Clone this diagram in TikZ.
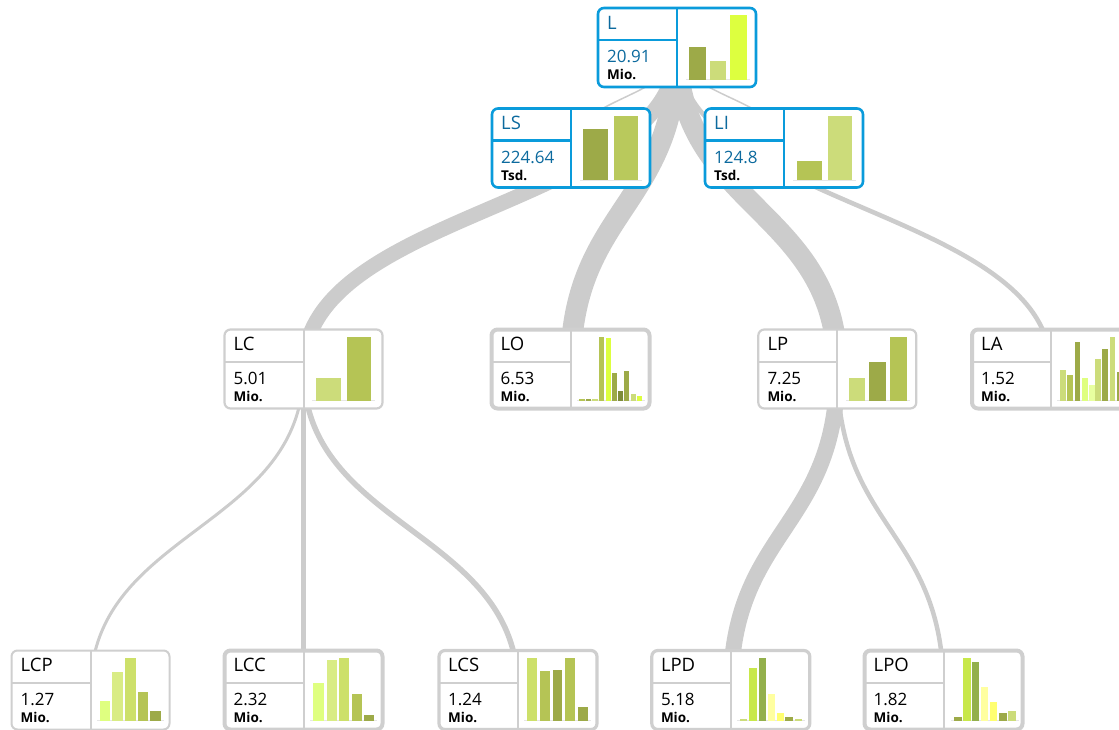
\documentclass[tikz,border=0pt]{standalone}
\usepackage{fontspec}
\setmainfont{Open Sans}
\usetikzlibrary{calc}
\pgfdeclarelayer{links}
\pgfsetlayers{links,main}

% palette
\definecolor{nodeblue}{HTML}{0A9BDB}
\definecolor{textblue}{HTML}{0C6A9E}
\definecolor{flowgray}{HTML}{CCCCCC}
\definecolor{framegray}{HTML}{CFCFCF}
\definecolor{axisgray}{HTML}{E6E6E6}
\definecolor{olive}{HTML}{9DAA48}
\definecolor{darkolive}{HTML}{7E8C3A}
\definecolor{midgreen}{HTML}{B5C455}
\definecolor{lightgreen}{HTML}{CCDC7A}
\definecolor{bright}{HTML}{DDFF3F}
\definecolor{palelime}{HTML}{DFFF80}
\definecolor{paler}{HTML}{E8FFA0}
\definecolor{softgreen}{HTML}{D9EC85}
\definecolor{leafgreen}{HTML}{CDE06A}
\definecolor{lime}{HTML}{C8E84A}
\definecolor{moss}{HTML}{93B04C}
\definecolor{paleyellow}{HTML}{FFFFA0}
\definecolor{yellow}{HTML}{FFFF70}
\definecolor{lsbar}{HTML}{B9C95C}

\tikzset{
  box/.style={rectangle, rounded corners=6pt, minimum width=158pt,
    minimum height=79pt, inner sep=0pt, outer sep=0pt, fill=white},
  bluebox/.style={box, draw=nodeblue, line width=2.6pt},
  graybox/.style={box, draw=framegray},
  bluediv/.style={draw=nodeblue, line width=2.4pt},
  graydiv/.style={draw=framegray, line width=2pt},
  flow/.style={draw=flowgray, line cap=butt},
  nametext/.style={anchor=base west, inner sep=0pt, font=\fontsize{18.5}{21}\selectfont},
  valtext/.style={anchor=base west, inner sep=0pt, font=\fontsize{17}{20}\selectfont},
  unittext/.style={anchor=base west, inner sep=0pt, font=\fontsize{13.5}{16}\selectfont\bfseries},
  axis/.style={draw=axisgray, line width=1pt},
}

% a node box: name, x, y, frame style, divider style, label, value, unit
\newcommand\kpibox[8]{%
  \node[#4] (#1) at (#2,#3) {};
  \draw[#5] (#1.north) -- (#1.south);
  \draw[#5] ([yshift=7.5pt]#1.west) -- ([yshift=7.5pt]#1.center);
  \node[nametext] (#1-name) at ($(#1.center)+(-70,-18.5)$) {#6};
  \node[valtext] (#1-value) at ($(#1.center)+(-70,15)$) {#7};
  \node[unittext] (#1-unit) at ($(#1.center)+(-70,32)$) {#8};
}

% a flow band between two node centres with vertical tangents
\newcommand\flowlink[3]{%
  \path ($(#1.center)!0.5!(#2.center)$) coordinate (mid-#1-#2);
  \draw[flow, line width=#3pt] (#1.center) .. controls (#1.center |- mid-#1-#2)
    and (#2.center |- mid-#1-#2) .. (#2.center);
}

\begin{document}
\begin{tikzpicture}[x=1pt, y=-1pt]
\useasboundingbox (0,0) rectangle (1119,729);
\clip (0,0) rectangle (1119,729);

% ---------- boxes ----------
\kpibox{L}{677}{47.5}{bluebox}{bluediv}{\color{textblue}L}{\color{textblue}20.91}{Mio.}
\kpibox{LS}{571}{148}{bluebox}{bluediv}{\color{textblue}LS}{\color{textblue}224.64}{Tsd.}
\kpibox{LI}{784}{148}{bluebox}{bluediv}{\color{textblue}LI}{\color{textblue}124.8}{Tsd.}

\kpibox{LC}{303.5}{369}{graybox, line width=2.2pt}{graydiv}{LC}{5.01}{Mio.}
\kpibox{LO}{570.5}{369}{graybox, line width=4pt}{graydiv}{LO}{6.53}{Mio.}
\kpibox{LP}{837.3}{369}{graybox, line width=2.2pt}{graydiv}{LP}{7.25}{Mio.}
\kpibox{LA}{1051}{369}{graybox, line width=4pt}{graydiv}{LA}{1.52}{Mio.}

\kpibox{LCP}{90.5}{690}{graybox, line width=2pt}{graydiv}{LCP}{1.27}{Mio.}
\kpibox{LCC}{303.5}{690}{graybox, line width=4pt}{graydiv}{LCC}{2.32}{Mio.}
\kpibox{LCS}{518}{690}{graybox, line width=3.2pt}{graydiv}{LCS}{1.24}{Mio.}
\kpibox{LPD}{730.8}{690}{graybox, line width=3.2pt}{graydiv}{LPD}{5.18}{Mio.}
\kpibox{LPO}{943.5}{690}{graybox, line width=4pt}{graydiv}{LPO}{1.82}{Mio.}

% ---------- flow bands ----------
\begin{pgfonlayer}{links}
\flowlink{L}{LS}{1.5}
\flowlink{L}{LI}{1.5}
\flowlink{L}{LC}{15}
\flowlink{L}{LO}{21}
\flowlink{L}{LP}{21}
\flowlink{L}{LA}{4.6}
\flowlink{LC}{LCP}{3}
\flowlink{LC}{LCC}{5.5}
\flowlink{LC}{LCS}{5.5}
\flowlink{LP}{LPD}{16}
\flowlink{LP}{LPO}{4.5}
\end{pgfonlayer}

% ---------- bar charts ----------
% L
\draw[axis] (686,79.5) -- (750,79.5);
\foreach \a/\b/\t/\c in {689/705.7/47/olive, 710/725.7/60.7/lightgreen, 730/746.7/15.3/bright}
  \fill[\c] (\a,79.5) rectangle (\b,\t);
% LS
\draw[axis] (580,180) -- (642,180);
\foreach \a/\b/\t/\c in {583.3/608/129/olive, 614/638.3/115.7/lsbar}
  \fill[\c] (\a,180) rectangle (\b,\t);
% LI
\draw[axis] (793,180) -- (856,180);
\foreach \a/\b/\t/\c in {796.7/821.7/161/midgreen, 827.7/852.3/115.7/lightgreen}
  \fill[\c] (\a,180) rectangle (\b,\t);
% LC
\draw[axis] (312,400.5) -- (375,400.5);
\foreach \a/\b/\t/\c in {316/340.7/378.3/lightgreen, 346.7/371/336.7/midgreen}
  \fill[\c] (\a,400.5) rectangle (\b,\t);
% LO
\draw[axis] (577,400.7) -- (645,400.7);
\foreach \a/\b/\t/\c in {579.3/585/398.7/midgreen, 585.7/591.3/398.5/olive,
  592.3/598/399/lightgreen, 599.3/604.3/336.7/midgreen, 605.7/610.7/338.3/bright,
  611.7/616.7/373.3/olive, 617.7/623/391/darkolive, 624/629.3/371/olive,
  630.7/636/394/lightgreen, 636.7/642.3/396/bright}
  \fill[\c] (\a,400.7) rectangle (\b,\t);
% LP
\draw[axis] (846,400.5) -- (910,400.5);
\foreach \a/\b/\t/\c in {849.3/865.3/378.3/lightgreen, 869.3/886/361.7/olive, 890/906.7/336.7/midgreen}
  \fill[\c] (\a,400.5) rectangle (\b,\t);
% LA
\draw[axis] (1057,400.7) -- (1125,400.7);
\foreach \a/\b/\t/\c in {1060/1066/370/lightgreen, 1067.3/1073.3/375/midgreen,
  1074.7/1080.3/342/olive, 1082/1087.7/378.3/palelime, 1089/1094.7/385/paler,
  1095.3/1101/359/lightgreen, 1102.3/1108/349.3/olive, 1109.7/1115.3/336.7/lightgreen,
  1116.7/1122.3/372.3/olive}
  \fill[\c] (\a,400.7) rectangle (\b,\t);
% LCP
\draw[axis] (97,720.8) -- (164,720.8);
\foreach \a/\b/\t/\c in {100/110/701/palelime, 112.3/122.7/672.3/softgreen,
  125.3/136/657.7/leafgreen, 138.3/148.3/692.3/midgreen, 150.3/160.7/710.7/olive}
  \fill[\c] (\a,720.8) rectangle (\b,\t);
% LCC
\draw[axis] (310,720.8) -- (377,720.8);
\foreach \a/\b/\t/\c in {313.3/324/682.7/palelime, 326.7/336.7/660/softgreen,
  339/349.3/657.7/leafgreen, 351.7/361.7/694/midgreen, 364.3/374/715/olive}
  \fill[\c] (\a,720.8) rectangle (\b,\t);
% LCS
\draw[axis] (524,720.8) -- (591,720.8);
\foreach \a/\b/\t/\c in {526.7/537.3/657.7/leafgreen, 540/550/670.7/midgreen,
  552.7/562.3/670/olive, 565/575/657.7/midgreen, 577.7/587.7/706.7/olive}
  \fill[\c] (\a,720.8) rectangle (\b,\t);
% LPD
\draw[axis] (737,720.8) -- (805,720.8);
\foreach \a/\b/\t/\c in {740/747.3/719.3/lightgreen, 749.3/756.7/667.7/lime,
  759/766/657.7/moss, 767.7/775/694.3/paleyellow, 776.7/784/713.3/yellow,
  785.3/793.3/717.3/olive, 795/802.3/719/lightgreen}
  \fill[\c] (\a,720.8) rectangle (\b,\t);
% LPO
\draw[axis] (951,720.8) -- (1019,720.8);
\foreach \a/\b/\t/\c in {954/961.7/717.3/olive, 963.3/970.7/657.7/lime,
  972/979.3/661.7/moss, 981/988.3/686.7/paleyellow, 990/997.3/701.7/yellow,
  999/1006.7/713.3/olive, 1007.7/1015.7/710.7/lightgreen}
  \fill[\c] (\a,720.8) rectangle (\b,\t);
\end{tikzpicture}
\end{document}
